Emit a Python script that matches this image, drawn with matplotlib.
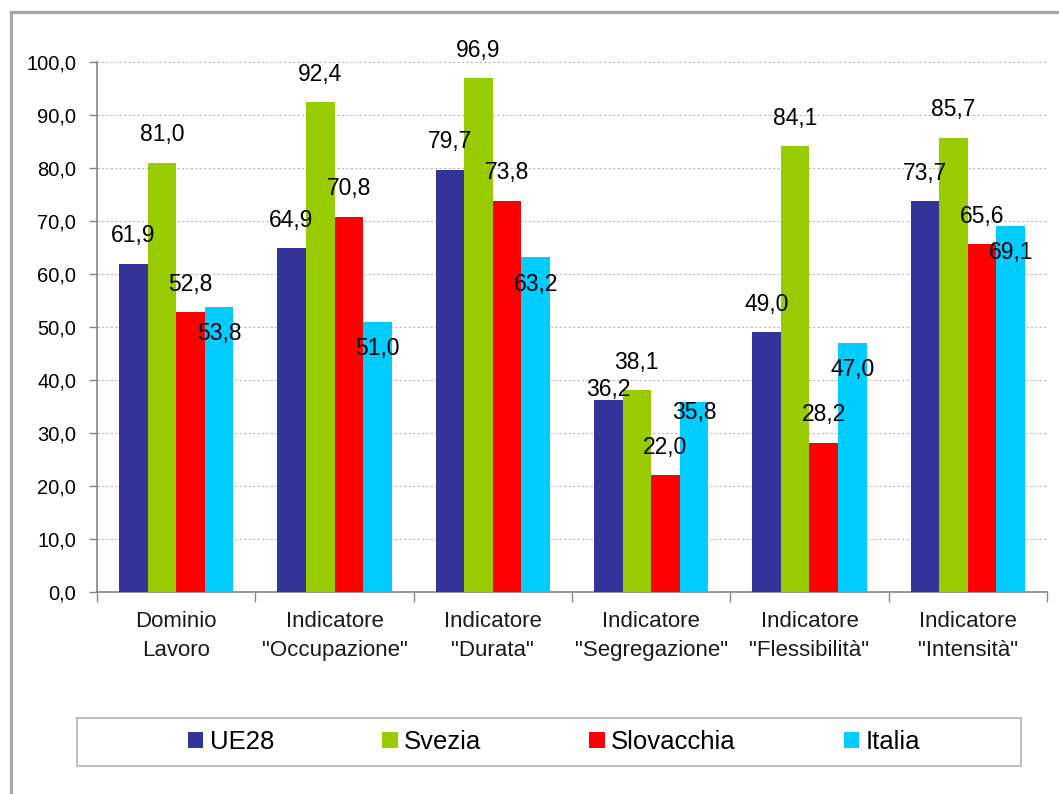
import numpy as np
import matplotlib
matplotlib.use("Agg")
import matplotlib.pyplot as plt
from matplotlib.lines import Line2D
from matplotlib.patches import Rectangle, Patch

plt.rcParams['font.family'] = ['Liberation Sans', 'DejaVu Sans']

categories = ['Dominio\nLavoro', 'Indicatore\n"Occupazione"', 'Indicatore\n"Durata"',
              'Indicatore\n"Segregazione"', 'Indicatore\n"Flessibilità"', 'Indicatore\n"Intensità"']
series = ['UE28', 'Svezia', 'Slovacchia', 'Italia']
ue28 = [61.9, 64.9, 79.7, 36.2, 49.0, 73.7]
svezia = [81.0, 92.4, 96.9, 38.1, 84.1, 85.7]
slovacchia = [52.8, 70.8, 73.8, 22.0, 28.2, 65.6]
italia = [53.8, 51.0, 63.2, 35.8, 47.0, 69.1]
yticks = np.arange(0, 101, 10)

colors = ['#333399', '#99CC00', '#FF0000', '#00CCFF']
# label vertical offsets in pixels (positive = above bar top)
label_off = [
    [28, 28, 28, 11, 28, 28],
    [28, 28, 28, 28, 28, 28],
    [28, 28, 28, 28, 28, 28],
    [-27, -27, -27, -10, -27, -27],
]

W, H = 1059, 794
fig = plt.figure(figsize=(W / 100, H / 100), dpi=100)
ax = fig.add_axes([97 / W, 1 - 592 / H, (1047 - 97) / W, (592 - 62) / H])

x = np.arange(len(categories))
bw = 0.181
for i, (name, vals) in enumerate(zip(series, [ue28, svezia, slovacchia, italia])):
    xs = x + (i - 1.5) * bw
    ax.bar(xs, vals, width=bw, color=colors[i], label=name, zorder=3)
    for xi, v, off in zip(xs, vals, label_off[i]):
        ax.annotate(f"{v:.1f}".replace('.', ','), (xi, v), xytext=(0, off * 0.72),
                    textcoords='offset points', ha='center', va='center',
                    fontsize=16.5, color='black', zorder=5)

ax.set_xlim(-0.5, len(categories) - 0.5)
ax.set_ylim(0, 100)
ax.set_yticks(yticks)
ax.set_yticklabels([f"{t:.1f}".replace('.', ',') for t in yticks], fontsize=14.5)
ax.set_xticks(x)
ax.set_xticklabels(categories, fontsize=16, color='#1a1a1a', linespacing=1.45)
ax.set_xticks(np.arange(-0.5, len(categories)), minor=True)
ax.tick_params(axis='x', which='major', length=0, pad=14)
ax.tick_params(axis='x', which='minor', length=7, color='#868686', width=1)
ax.tick_params(axis='y', length=6, color='#868686', width=1, pad=9)

ax.grid(axis='y', linestyle=(0, (2, 2)), color='#b8b8b8', linewidth=0.8, zorder=0)
for s in ['top', 'right']:
    ax.spines[s].set_visible(False)
for s in ['left', 'bottom']:
    ax.spines[s].set_color('#868686')
    ax.spines[s].set_linewidth(1.2)

# outer frame
fig.add_artist(Line2D([10.5 / W, 10.5 / W], [0, 1 - 12 / H], color='#a6a6a6', lw=2.3))
fig.add_artist(Line2D([10.5 / W, 1], [1 - 12 / H, 1 - 12 / H], color='#a6a6a6', lw=2.3))

# legend box
fig.add_artist(Rectangle((77 / W, 1 - 766 / H), (1021 - 77) / W, (766 - 718) / H,
                         transform=fig.transFigure, fill=False, edgecolor='#bfbfbf', lw=1.5))
handles = [Patch(facecolor=c, edgecolor='none') for c in colors]
fig.legend(handles, series, loc='center', bbox_to_anchor=(554 / W, 1 - 742 / H), ncol=4,
           frameon=False, fontsize=18.5, handlelength=0.6, handleheight=0.6,
           handletextpad=0.25, columnspacing=4.2)

fig.savefig('out.png', dpi=100)
